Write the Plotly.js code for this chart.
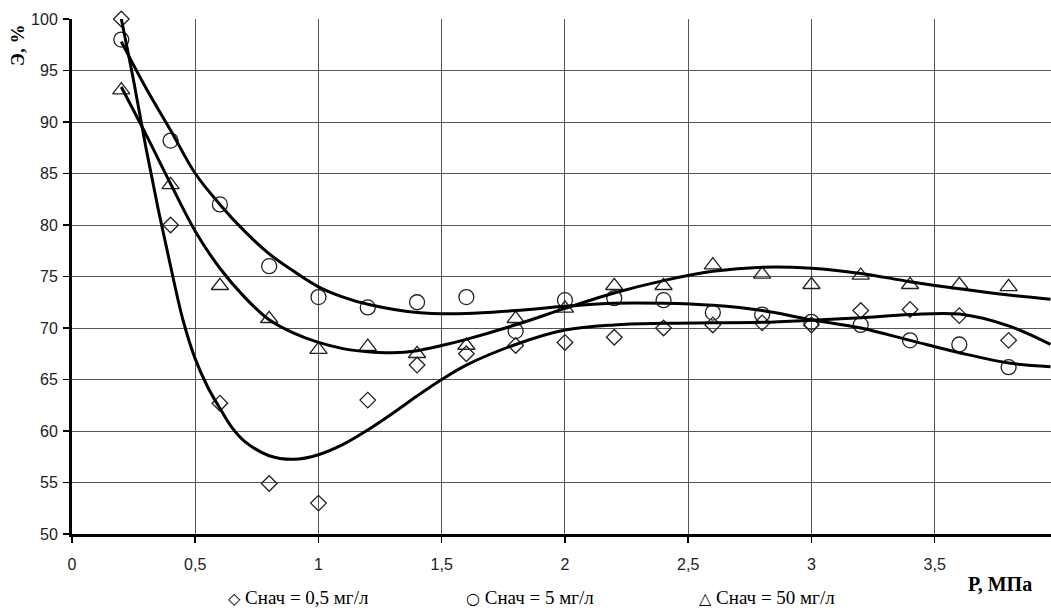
<!DOCTYPE html>
<html>
<head>
<meta charset="utf-8">
<script src="https://cdn.plot.ly/plotly-3.0.1.min.js"></script>
<style>html,body{margin:0;padding:0;background:#fff;overflow:hidden}#chart{width:1051px;height:610px}</style>
</head>
<body>
<div id="chart"></div>
<script>
// Pressure, MPa (measured points)
const pressure = [0.2,0.4,0.6,0.8,1.0,1.2,1.4,1.6,1.8,2.0,2.2,2.4,2.6,2.8,3.0,3.2,3.4,3.6,3.8];
const pressure50 = [0.2,0.4,0.6,0.8,1.0,1.2,1.4,1.6,1.8,2.0,2.2,2.4,2.6,2.8,3.0,3.2,3.4,3.6,3.8,4.0];
// Efficiency, %
const eff05 = [100,80,62.7,54.9,53.0,63.0,66.4,67.5,68.3,68.6,69.1,70.0,70.3,70.5,70.3,71.7,71.8,71.2,68.8];
const eff5  = [98.0,88.2,82.0,76.0,73.0,72.0,72.5,73.0,69.7,72.7,72.9,72.7,71.5,71.3,70.6,70.3,68.8,68.4,66.2];
const eff50 = [93.1,83.9,74.1,70.9,67.9,68.2,67.5,68.3,70.9,71.9,74.1,74.1,76.1,75.2,74.2,75.1,74.2,74.2,74.0,71.3];

// Trend curves
const trend05x = [0.2,0.25,0.3,0.35,0.4,0.45,0.5,0.55,0.6,0.65,0.7,0.8,0.9,1.0,1.1,1.2,1.3,1.4,1.5,1.6,1.8,2.0,2.2,2.4,2.6,2.8,3.0,3.2,3.4,3.6,3.8,3.97];
const trend05y = [100,94,87.5,81.5,76,70.8,67,64.3,62.2,60.3,59.0,57.6,57.25,57.7,58.7,60.1,61.7,63.4,65.0,66.4,68.4,69.8,70.3,70.45,70.5,70.55,70.75,71.0,71.3,71.35,70.2,68.4];
const trend5x  = [0.2,0.3,0.4,0.5,0.6,0.7,0.8,0.9,1.0,1.1,1.2,1.4,1.6,1.8,2.0,2.2,2.4,2.6,2.8,3.0,3.2,3.4,3.6,3.8,3.97];
const trend5y  = [97.8,93.3,89.2,85.0,82.0,79.4,77.2,75.5,74.0,73.0,72.3,71.5,71.4,71.7,72.1,72.4,72.4,72.2,71.7,70.8,70.0,68.8,67.6,66.6,66.25];
const trend50x = [0.2,0.3,0.4,0.5,0.6,0.7,0.8,0.9,1.0,1.1,1.2,1.3,1.4,1.5,1.6,1.8,2.0,2.2,2.4,2.6,2.8,3.0,3.2,3.4,3.6,3.8,3.97];
const trend50y = [93.4,88.8,84.0,79.4,75.8,73.0,70.8,69.5,68.6,68.0,67.7,67.6,67.8,68.3,68.9,70.3,71.9,73.4,74.6,75.5,75.9,75.8,75.3,74.5,73.8,73.2,72.8];

const legendNames = ['Снач = 0,5 мг/л','Снач = 5 мг/л','Снач = 50 мг/л'];
const legendGlyphs = ['◇','○','△'];
const xTitle = 'Р, МПа';
const yTitle = 'Э, %';

const mk = (sym, size) => ({symbol: sym, size: size, color: '#222', line: {color: '#222', width: 1.3}});
const traces = [
  {x: pressure, y: eff05, mode: 'markers', name: legendNames[0], marker: mk('diamond-open', 12), cliponaxis: false},
  {x: pressure, y: eff5, mode: 'markers', name: legendNames[1], marker: mk('circle-open', 15), cliponaxis: false},
  {x: pressure50, y: eff50, mode: 'markers', name: legendNames[2], marker: mk('triangle-up-open', 15), cliponaxis: false},
  {x: trend05x, y: trend05y, mode: 'lines', line: {color: '#000', width: 3, shape: 'spline', smoothing: 1}, showlegend: false},
  {x: trend5x, y: trend5y, mode: 'lines', line: {color: '#000', width: 3, shape: 'spline', smoothing: 1}, showlegend: false},
  {x: trend50x, y: trend50y, mode: 'lines', line: {color: '#000', width: 3, shape: 'spline', smoothing: 1}, showlegend: false}
];

const L = 72, R = 1051, T = 19, B = 534;
const px = v => (v - L) / (R - L);
const py = v => (B - v) / (B - T);

const tickFont = {family: 'Liberation Sans, Arial, sans-serif', size: 16, color: '#222'};
const legendFont = {family: 'Liberation Serif, Times New Roman, serif', size: 19, color: '#000'};
const legendX = [226, 464, 697];

const annotations = [
  {text: '<b>' + yTitle + '</b>', xref: 'paper', yref: 'paper', x: px(17), y: py(46), textangle: -90,
   showarrow: false, xanchor: 'center', yanchor: 'middle', font: {family: 'Liberation Serif, serif', size: 19, color: '#000'}},
  {text: '<b>' + xTitle + '</b>', xref: 'paper', yref: 'paper', x: px(1000), y: py(584),
   showarrow: false, xanchor: 'center', yanchor: 'middle', font: {family: 'Liberation Serif, serif', size: 20, color: '#000'}}
];
legendNames.forEach((n, i) => annotations.push({
  text: '<span style="font-family:DejaVu Sans;font-size:16px">' + legendGlyphs[i] + '</span> ' + n,
  xref: 'paper', yref: 'paper', x: px(legendX[i]), y: py(597), xanchor: 'left', yanchor: 'middle',
  showarrow: false, font: legendFont
}));

const layout = {
  width: 1051, height: 610,
  margin: {l: L, r: 1051 - R, t: T, b: 610 - B, pad: 0},
  paper_bgcolor: '#fff', plot_bgcolor: '#fff',
  separators: ', ',
  showlegend: false,
  xaxis: {range: [0, 3.972], tick0: 0, dtick: 0.5, showgrid: true, gridcolor: '#555', gridwidth: 1,
          zeroline: false, showline: true, linecolor: '#000', linewidth: 3,
          ticks: 'outside', ticklen: 6, tickwidth: 1.5, tickcolor: '#000', ticklabelstandoff: 8,
          tickfont: tickFont, fixedrange: true},
  yaxis: {range: [50, 100], tick0: 50, dtick: 5, showgrid: true, gridcolor: '#555', gridwidth: 1,
          zeroline: false, showline: true, linecolor: '#000', linewidth: 3,
          ticks: 'outside', ticklen: 6, tickwidth: 1.5, tickcolor: '#000', ticklabelstandoff: 2,
          tickfont: tickFont, fixedrange: true},
  annotations: annotations
};

Plotly.newPlot('chart', traces, layout, {displayModeBar: false, staticPlot: true});
</script>
</body>
</html>
